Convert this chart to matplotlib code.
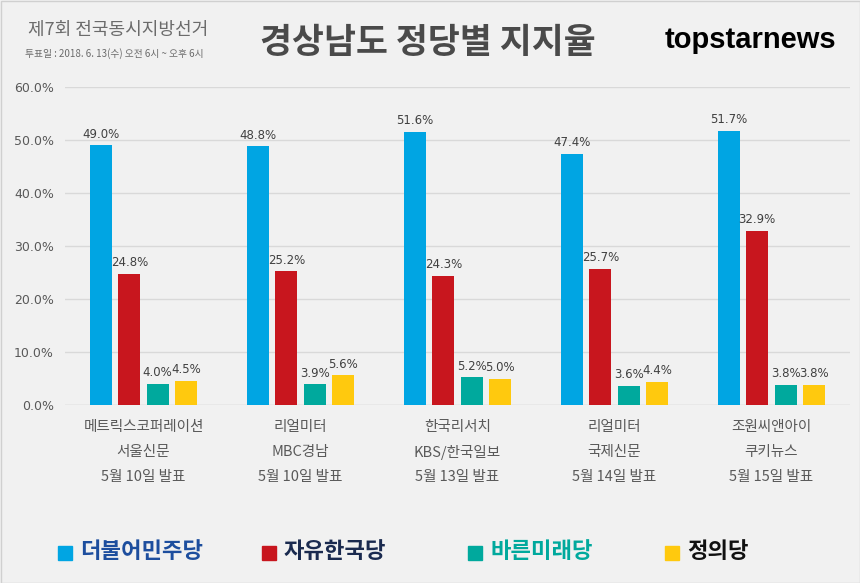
import numpy as np
import matplotlib.pyplot as plt
from matplotlib.patches import Rectangle

plt.rcParams['font.family'] = ['Noto Sans CJK KR', 'DejaVu Sans']

# Data
pollsters = ["메트릭스코퍼레이션\n서울신문\n5월 10일 발표",
             "리얼미터\nMBC경남\n5월 10일 발표",
             "한국리서치\nKBS/한국일보\n5월 13일 발표",
             "리얼미터\n국제신문\n5월 14일 발표",
             "조원씨앤아이\n쿠키뉴스\n5월 15일 발표"]
parties = ["더불어민주당", "자유한국당", "바른미래당", "정의당"]
minjoo = [49.0, 48.8, 51.6, 47.4, 51.7]
jayu = [24.8, 25.2, 24.3, 25.7, 32.9]
bareun = [4.0, 3.9, 5.2, 3.6, 3.8]
jeongui = [4.5, 5.6, 5.0, 4.4, 3.8]
yticks = [0, 10, 20, 30, 40, 50, 60]

colors = ["#00a5e3", "#c8161e", "#00a99d", "#ffc90e"]
bg = "#f1f1f1"
txt = "#595959"

fig = plt.figure(figsize=(8.6, 5.83), dpi=100, facecolor=bg)
W, H = 860, 583

ax = fig.add_axes([65 / W, 1 - 405 / H, 785 / W, 318 / H])
ax.set_facecolor(bg)

x = np.arange(len(pollsters))
series = [minjoo, jayu, bareun, jeongui]
bw = 0.14
step = 0.181
for i, (vals, c) in enumerate(zip(series, colors)):
    pos = x + (i - 1.5) * step
    ax.bar(pos, vals, width=bw, color=c, zorder=3)
    for p, v in zip(pos, vals):
        ax.text(p, v + 0.9, f"{v:.1f}%", ha="center", va="bottom",
                fontsize=8.5, color="#404040", family="DejaVu Sans", zorder=4)

ax.set_xlim(-0.5, len(pollsters) - 0.5)
ax.set_ylim(0, 60)
ax.set_yticks(yticks)
ax.set_yticklabels([f"{v:.1f}%" for v in yticks], family="DejaVu Sans",
                   fontsize=9, color=txt)
ax.grid(axis="y", color="#d9d9d9", linewidth=1, zorder=0)
ax.tick_params(length=0, pad=8)
ax.set_xticks(x)
ax.set_xticklabels([])
for s in ax.spines.values():
    s.set_visible(False)
ax.axhline(0, color="#d9d9d9", linewidth=1, zorder=2)

# category labels (three lines)
for xi, lab in zip(x, pollsters):
    for j, line in enumerate(lab.split("\n")):
        ax.text(xi, -4.2 - j * 4.7, line, ha="center", va="center",
                fontsize=10.5, color=txt, transform=ax.transData, clip_on=False)

# header
fig.text(118 / W, 1 - 30 / H, "제7회 전국동시지방선거", ha="center", va="center",
         fontsize=13, color="#6b6b6b")
fig.text(114 / W, 1 - 54 / H, "투표일 : 2018. 6. 13(수) 오전 6시 ~ 오후 6시",
         ha="center", va="center", fontsize=7, color="#6b6b6b")
fig.text(428 / W, 1 - 42 / H, "경상남도 정당별 지지율", ha="center", va="center",
         fontsize=25, fontweight="bold", color="#4a4a4a")
fig.text(750 / W, 1 - 40 / H, "topstarnews", ha="center", va="center",
         fontsize=21, fontweight="bold", color="black", family="Liberation Sans")

# legend
leg_x = [58, 262, 468, 665]
leg_txt_colors = ["#1d4e9e", "#1a2a4f", "#00a99d", "#111111"]
for lx, name, c, tc in zip(leg_x, parties, colors, leg_txt_colors):
    fig.patches.append(Rectangle((lx / W, 1 - 560 / H), 14 / W, 14 / H,
                                 transform=fig.transFigure, color=c))
    fig.text((lx + 22) / W, 1 - 552 / H, name, ha="left", va="center",
             fontsize=16, fontweight="bold", color=tc)

# border
fig.patches.append(Rectangle((0.5 / W, 0.5 / H), 1 - 1 / W, 1 - 1 / H,
                             transform=fig.transFigure, fill=False,
                             edgecolor="#d0d0d0", linewidth=1))

fig.savefig("out.png", dpi=100, facecolor=bg)
